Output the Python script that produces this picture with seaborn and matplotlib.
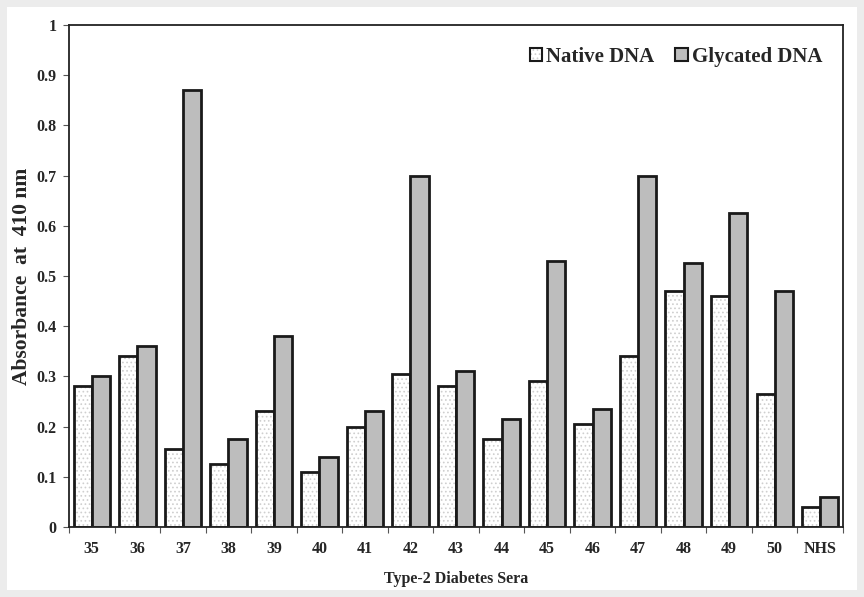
import matplotlib
matplotlib.use("Agg")
import matplotlib.pyplot as plt
import matplotlib.colors as mcolors
import seaborn as sns
import pandas as pd
import numpy as np
from matplotlib.patches import Patch
from matplotlib.ticker import FixedLocator

sera = ["35", "36", "37", "38", "39", "40", "41", "42", "43", "44", "45",
        "46", "47", "48", "49", "50", "NHS"]
native = [0.28, 0.34, 0.155, 0.125, 0.23, 0.11, 0.20, 0.305, 0.28, 0.175,
          0.29, 0.205, 0.34, 0.47, 0.46, 0.265, 0.04]
glycated = [0.30, 0.36, 0.87, 0.175, 0.38, 0.14, 0.23, 0.70, 0.31, 0.215,
            0.53, 0.235, 0.70, 0.525, 0.625, 0.47, 0.06]
series = ["Native DNA", "Glycated DNA"]

df = pd.DataFrame({
    "sera": sera * 2,
    "value": native + glycated,
    "type": [series[0]] * len(sera) + [series[1]] * len(sera),
})

sns.set_theme(style="white")
plt.rcParams["font.family"] = ["Liberation Serif", "DejaVu Serif"]
plt.rcParams["font.weight"] = "bold"
plt.rcParams["hatch.linewidth"] = 0.7

HATCH_C = mcolors.to_rgba("#cfcfcf")


def light_hatch(p):
    p.set_hatch("....")
    if hasattr(p, "set_hatchcolor"):
        try:
            p.set_hatchcolor(HATCH_C)
            return
        except Exception:
            pass
    p._hatch_color = HATCH_C


fig = plt.figure(figsize=(8.64, 5.97), dpi=100)
fig.patch.set_facecolor("white")
fig.patch.set_edgecolor("#ececec")
fig.patch.set_linewidth(10)
ax = fig.add_axes([0.0799, 0.1173, 0.8958, 0.8410])

sns.barplot(data=df, x="sera", y="value", hue="type", order=sera,
            hue_order=series, palette={series[0]: "white", series[1]: "#bdbdbd"},
            width=0.8, edgecolor="#1a1a1a", linewidth=2.0, ax=ax, legend=False)

for bar in ax.containers[0]:
    light_hatch(bar)

ax.set_ylim(0, 1)
ax.set_xlim(-0.5, len(sera) - 0.5)
ax.set_yticks(np.round(np.arange(0, 1.01, 0.1), 1))
ax.set_yticklabels(["0"] + [f"{v:.1f}" for v in np.arange(0.1, 0.95, 0.1)] + ["1"])

ax.xaxis.set_minor_locator(FixedLocator(np.arange(-0.5, len(sera), 1.0)))
ax.tick_params(axis="x", which="major", length=0, labelsize=11.5, pad=10)
ax.tick_params(axis="x", which="minor", length=4, width=0.8, color="#555555",
               direction="out", bottom=True)
ax.tick_params(axis="y", which="major", length=4, width=0.8, color="#555555",
               direction="out", left=True, labelsize=11.5, pad=5)
for lab in ax.get_xticklabels() + ax.get_yticklabels():
    lab.set_fontweight("bold")

for sp in ax.spines.values():
    sp.set_visible(True)
    sp.set_color("#222222")
    sp.set_linewidth(1.3)

ax.set_xlabel("Type-2 Diabetes Sera", fontsize=11.5, fontweight="bold", labelpad=10)
ax.set_ylabel("Absorbance  at  410 nm", fontsize=15.5, fontweight="bold", labelpad=3)

h0 = Patch(facecolor="white", edgecolor="#1a1a1a", linewidth=1.5)
light_hatch(h0)
handles = [h0, Patch(facecolor="#bdbdbd", edgecolor="#1a1a1a", linewidth=1.5)]
leg = ax.legend(handles, series, loc="upper right", frameon=False,
                prop={"family": "Liberation Serif", "weight": "bold", "size": 15},
                ncol=2, handlelength=0.6, handleheight=0.6, handletextpad=0.2,
                columnspacing=1.0, borderaxespad=0.4, bbox_to_anchor=(0.995, 0.99))

fig.savefig("out.png", dpi=100, facecolor=fig.get_facecolor(), edgecolor=fig.get_edgecolor())
